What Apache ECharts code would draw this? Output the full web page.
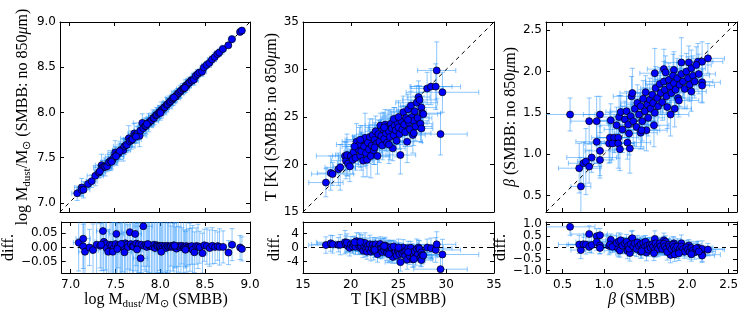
<!DOCTYPE html>
<html>
<head>
<meta charset="utf-8">
<script src="https://cdn.jsdelivr.net/npm/echarts@6/dist/echarts.min.js"></script>
<style>
  html, body { margin: 0; padding: 0; background: #ffffff; }
  #chart { width: 747px; height: 320px; }
</style>
</head>
<body>
<div id="chart"></div>
<script>
// ---- dust mass (log M_dust / M_sun) ----
const massSmbb = [7.09,7.14,7.14,7.16,7.21,7.25,7.29,7.33,7.36,7.37,
  7.39,7.40,7.42,7.44,7.46,7.48,7.50,7.51,7.53,7.55,
  7.57,7.58,7.60,7.61,7.63,7.64,7.66,7.67,7.69,7.70,
  7.72,7.73,7.75,7.76,7.78,7.79,7.81,7.82,7.84,7.85,
  7.87,7.88,7.90,7.91,7.93,7.94,7.96,7.97,7.99,8.00,
  8.02,8.03,8.05,8.06,8.08,8.09,8.11,8.12,8.14,8.15,
  8.17,8.18,8.20,8.21,8.23,8.24,8.26,8.27,8.29,8.30,
  8.32,8.33,8.35,8.36,8.38,8.40,8.42,8.44,8.47,8.49,
  8.52,8.55,8.58,8.61,8.64,8.66,8.70,8.76,8.80,8.89,
  8.91,7.47,7.56,7.74,7.86,8.01,8.16,8.28,7.34,7.52];
const massNo850 = [7.107,7.171,7.144,7.145,7.210,7.241,7.300,7.336,7.418,7.390,
  7.403,7.398,7.405,7.450,7.468,7.477,7.512,7.558,7.536,7.553,
  7.582,7.586,7.583,7.625,7.640,7.642,7.714,7.682,7.694,7.703,
  7.768,7.744,7.752,7.771,7.742,7.800,7.885,7.826,7.850,7.852,
  7.880,7.886,7.905,7.913,7.940,7.938,7.968,7.975,7.995,8.004,
  8.026,8.030,8.055,8.058,8.086,8.092,8.113,8.125,8.142,8.158,
  8.172,8.176,8.205,8.214,8.231,8.246,8.262,8.268,8.295,8.298,
  8.323,8.331,8.355,8.352,8.363,8.405,8.424,8.441,8.450,8.498,
  8.525,8.548,8.586,8.612,8.645,8.662,8.702,8.742,8.810,8.890,
  8.905,7.455,7.572,7.733,7.872,7.995,8.166,8.272,7.350,7.515];
const massErrX = [0.06,0.08,0.05,0.07,0.04,0.06,0.09,0.05,0.07,0.10,
  0.06,0.08,0.05,0.09,0.07,0.06,0.10,0.08,0.05,0.07,
  0.09,0.06,0.08,0.12,0.07,0.05,0.09,0.06,0.08,0.10,
  0.07,0.05,0.09,0.06,0.08,0.07,0.10,0.06,0.05,0.08,
  0.07,0.06,0.09,0.05,0.07,0.06,0.08,0.05,0.07,0.06,
  0.05,0.07,0.06,0.08,0.05,0.06,0.07,0.05,0.06,0.08,
  0.05,0.06,0.07,0.05,0.06,0.05,0.07,0.04,0.06,0.05,
  0.04,0.06,0.05,0.07,0.04,0.05,0.06,0.04,0.05,0.04,
  0.05,0.04,0.05,0.03,0.04,0.05,0.04,0.03,0.04,0.03,
  0.03,0.07,0.08,0.06,0.05,0.07,0.05,0.04,0.06,0.09];
const massErrY = [0.08,0.10,0.06,0.09,0.05,0.07,0.11,0.06,0.12,0.08,
  0.07,0.10,0.06,0.09,0.11,0.07,0.08,0.13,0.06,0.09,
  0.10,0.07,0.12,0.09,0.08,0.06,0.14,0.07,0.10,0.09,
  0.11,0.06,0.09,0.08,0.12,0.07,0.10,0.06,0.08,0.09,
  0.07,0.10,0.06,0.08,0.09,0.07,0.06,0.08,0.05,0.07,
  0.09,0.06,0.07,0.05,0.08,0.06,0.07,0.05,0.06,0.08,
  0.05,0.07,0.06,0.05,0.07,0.04,0.06,0.05,0.07,0.04,
  0.05,0.06,0.04,0.05,0.06,0.04,0.05,0.04,0.05,0.04,
  0.04,0.05,0.04,0.05,0.03,0.04,0.04,0.03,0.04,0.03,
  0.03,0.08,0.09,0.07,0.06,0.08,0.06,0.05,0.07,0.10];

// ---- temperature T [K] ----
const tSmbb = [17.4,17.9,18.1,18.7,18.9,19.4,19.5,19.7,19.9,19.6,
  20.0,20.2,20.3,20.5,20.6,20.8,20.9,21.0,21.1,21.2,
  21.3,21.4,21.5,21.6,21.7,21.8,21.9,22.0,22.1,22.2,
  22.3,22.4,22.5,22.6,22.7,22.8,22.9,23.0,23.1,23.2,
  23.3,23.4,23.5,23.6,23.7,23.8,23.9,24.0,24.1,24.2,
  24.3,24.4,24.5,24.6,24.7,24.8,24.9,25.0,25.1,25.2,
  25.3,25.4,25.5,25.6,25.7,25.8,25.9,26.0,26.1,26.2,
  26.3,26.4,26.5,26.6,26.7,26.8,26.9,27.0,27.1,27.2,
  27.3,27.4,27.4,27.5,27.6,28.0,28.4,28.9,29.0,29.6,
  29.4,26.0,24.5,23.5,22.5,25.0,26.6,24.0,20.4,21.0];
const tNo850 = [18.1,19.1,19.0,19.5,19.7,20.9,20.4,20.1,19.8,21.0,
  20.9,20.5,21.3,20.7,22.4,21.6,22.1,20.9,21.4,22.6,
  20.4,21.9,22.8,21.2,20.5,22.3,21.6,22.9,20.9,22.0,
  23.1,21.5,22.6,23.5,22.2,20.9,23.2,22.4,24.1,23.0,
  22.0,23.7,22.7,24.2,23.3,22.3,24.0,23.5,22.9,24.3,
  23.8,21.7,23.1,24.1,23.6,22.5,24.4,23.9,23.2,21.0,
  24.6,23.7,25.5,24.2,23.4,24.9,22.4,25.8,24.4,23.7,
  26.2,25.0,23.1,24.6,25.6,24.0,26.5,24.9,27.1,26.8,
  24.3,26.0,23.8,25.4,25.3,28.0,28.2,28.2,29.9,27.6,
  23.2,24.7,24.8,23.9,21.8,25.0,23.3,22.1,21.9,22.6];
const tErrX = [1.8,1.4,2.2,1.2,1.6,3.0,1.5,1.1,1.7,1.2,
  1.9,1.3,1.0,1.8,1.5,1.1,2.4,1.5,1.2,1.6,
  1.0,1.9,1.3,1.7,1.2,1.5,1.1,1.8,1.3,1.6,
  1.2,2.2,1.5,1.1,1.7,1.3,1.8,1.2,1.6,1.9,
  1.2,1.5,1.1,1.7,1.3,1.6,1.2,2.0,1.5,1.1,
  1.8,1.3,1.6,1.2,1.9,1.5,1.1,1.7,1.3,1.6,
  1.2,1.8,1.5,1.1,1.7,1.3,1.6,1.2,1.9,1.5,
  1.1,1.8,1.3,1.6,1.2,1.7,2.2,1.5,1.2,1.8,
  1.3,1.6,1.2,1.9,1.5,1.7,2.2,2.6,2.0,3.8,
  2.8,1.5,1.3,1.6,1.2,1.7,1.8,1.5,1.3,1.6];
const tErrY = [1.5,1.8,1.2,1.7,2.4,1.5,1.9,1.3,1.6,2.2,
  1.2,1.5,1.7,1.3,1.9,1.6,1.8,1.2,2.0,1.5,
  1.7,1.2,2.6,1.3,1.8,1.6,1.5,1.9,2.3,1.3,
  1.7,1.5,1.8,1.6,1.2,1.9,1.5,2.2,1.3,1.7,
  1.5,1.8,1.2,1.6,1.9,1.5,1.7,1.3,2.4,1.5,
  1.8,1.3,1.6,1.9,1.5,1.7,1.2,1.8,1.6,2.0,
  1.5,1.3,1.7,1.9,1.5,1.2,2.2,1.6,1.3,1.8,
  1.5,1.7,1.9,1.2,1.6,1.5,1.8,1.3,1.7,1.5,
  1.9,1.6,1.5,1.8,1.3,1.7,1.9,2.4,3.0,2.1,
  2.2,1.6,1.2,1.5,1.8,1.7,1.3,2.0,1.2,1.5];

// ---- emissivity index beta ----
const betaSmbb = [0.59,0.72,0.70,0.75,0.78,0.82,0.82,0.85,0.91,0.95,
  0.91,0.95,0.95,1.06,1.08,1.07,1.12,1.17,1.10,1.17,
  1.19,1.28,1.31,1.33,1.34,1.44,1.51,1.61,1.72,1.74,
  1.80,1.84,1.93,2.02,2.13,2.18,2.25,2.18,2.18,1.15,
  1.18,1.20,1.22,1.25,1.27,1.29,1.30,1.32,1.35,1.37,
  1.39,1.40,1.42,1.44,1.46,1.47,1.49,1.50,1.52,1.53,
  1.55,1.56,1.58,1.59,1.61,1.62,1.64,1.65,1.67,1.68,
  1.70,1.72,1.73,1.75,1.76,1.78,1.79,1.81,1.83,1.84,
  1.86,1.88,1.89,1.91,1.93,1.95,1.97,1.99,2.01,2.03,
  2.05,2.07,2.09,2.11,2.14,1.45,1.60,1.85,1.90,2.05];
const betaNo850 = [1.48,0.61,0.83,0.89,0.91,1.40,0.85,0.96,1.40,1.48,
  1.15,1.04,0.93,1.13,1.41,1.20,1.20,1.20,1.13,1.13,
  1.06,1.14,1.07,1.70,1.74,1.26,1.29,1.98,2.03,1.99,
  1.48,2.02,2.11,2.11,2.12,2.12,2.16,1.87,1.83,1.35,
  1.45,1.51,1.30,1.42,1.52,1.36,1.25,1.46,1.40,1.55,
  1.33,1.62,1.48,1.58,1.40,1.67,1.52,1.75,1.60,1.44,
  1.66,1.55,1.72,1.62,1.50,1.80,1.68,1.58,1.85,1.74,
  1.63,1.88,1.78,1.70,1.57,1.90,1.82,1.74,1.95,1.86,
  1.78,1.92,1.68,1.84,1.97,1.88,1.79,2.00,1.92,1.84,
  2.04,1.95,1.88,2.08,1.97,1.29,1.35,1.55,1.65,1.76];
const betaErrX = [0.30,0.12,0.25,0.18,0.10,0.22,0.15,0.30,0.12,0.20,
  0.25,0.18,0.14,0.30,0.16,0.22,0.18,0.25,0.15,0.20,
  0.12,0.28,0.17,0.22,0.15,0.20,0.25,0.18,0.20,0.15,
  0.22,0.17,0.20,0.15,0.18,0.25,0.20,0.22,0.15,0.20,
  0.25,0.18,0.22,0.15,0.20,0.24,0.17,0.20,0.26,0.18,
  0.22,0.20,0.15,0.24,0.18,0.20,0.22,0.17,0.25,0.20,
  0.18,0.22,0.15,0.20,0.24,0.18,0.20,0.22,0.17,0.20,
  0.15,0.22,0.18,0.20,0.24,0.18,0.20,0.15,0.22,0.18,
  0.20,0.24,0.17,0.20,0.18,0.22,0.15,0.20,0.18,0.24,
  0.17,0.20,0.22,0.18,0.20,0.22,0.18,0.20,0.24,0.18];
const betaErrY = [0.20,0.35,0.30,0.25,0.40,0.28,0.20,0.18,0.30,0.22,
  0.26,0.30,0.22,0.24,0.20,0.30,0.18,0.25,0.20,0.30,
  0.26,0.20,0.30,0.24,0.30,0.20,0.25,0.30,0.24,0.20,
  0.26,0.22,0.30,0.20,0.22,0.24,0.18,0.25,0.20,0.22,
  0.26,0.20,0.28,0.22,0.24,0.20,0.26,0.22,0.30,0.20,
  0.24,0.22,0.26,0.20,0.24,0.22,0.28,0.20,0.24,0.22,
  0.26,0.20,0.24,0.22,0.20,0.26,0.22,0.24,0.20,0.26,
  0.22,0.24,0.20,0.22,0.26,0.20,0.24,0.22,0.26,0.20,
  0.22,0.24,0.20,0.26,0.22,0.20,0.24,0.22,0.26,0.20,
  0.22,0.24,0.20,0.22,0.24,0.20,0.26,0.22,0.20,0.24];

// axis ranges and ticks
const massRange = [6.9, 9.0];
const massTicks = [7.0, 7.5, 8.0, 8.5, 9.0];
const massDiffRange = [-0.09, 0.09];
const massDiffTicks = [-0.05, 0, 0.05];
const tRange = [15, 35];
const tTicks = [15, 20, 25, 30, 35];
const tDiffRange = [-7.3, 7.3];
const tDiffTicks = [-4, 0, 4];
const betaRange = [0.3, 2.6];
const betaTicks = [0.5, 1.0, 1.5, 2.0, 2.5];
const betaDiffRange = [-1.1, 1.1];
const betaDiffTicks = [-1.0, -0.5, 0, 0.5, 1.0];

const minus = v => (v < 0 ? '\u2212' : '');
const panels = [
  { left: 60, width: 190, xs: massSmbb, ys: massNo850, ex: massErrX, ey: massErrY,
    range: massRange, ticks: massTicks, dRange: massDiffRange, dTicks: massDiffTicks,
    fmt: v => v.toFixed(1), dfmt: v => minus(v) + Math.abs(v).toFixed(2),
    xName: '{n|log M}{s|dust}{n|/M}{s|\u2299}{n| (SMBB)}',
    yName: '{n|log M}{s|dust}{n|/M}{s|\u2299}{n| (SMBB: no 850}{i|\u03bc}{n|m)}',
    yGap: 25, dGap: 40 },
  { left: 303, width: 191, xs: tSmbb, ys: tNo850, ex: tErrX, ey: tErrY,
    range: tRange, ticks: tTicks, dRange: tDiffRange, dTicks: tDiffTicks,
    fmt: v => String(v), dfmt: v => String(v),
    xName: '{n|T [K] (SMBB)}',
    yName: '{n|T [K] (SMBB: no 850}{i|\u03bc}{n|m)}',
    yGap: 20, dGap: 19 },
  { left: 546, width: 191, xs: betaSmbb, ys: betaNo850, ex: betaErrX, ey: betaErrY,
    range: betaRange, ticks: betaTicks, dRange: betaDiffRange, dTicks: betaDiffTicks,
    fmt: v => v.toFixed(1), dfmt: v => minus(v) + Math.abs(v).toFixed(1),
    xName: '{i|\u03b2}{n| (SMBB)}',
    yName: '{i|\u03b2}{n| (SMBB: no 850}{i|\u03bc}{n|m)}',
    yGap: 21, dGap: 35 }
];

const serif = 'Liberation Serif';
const nameStyle = {
  rich: {
    n: { fontFamily: serif, fontSize: 16, color: '#000', verticalAlign: 'top' },
    i: { fontFamily: serif, fontSize: 16, color: '#000', fontStyle: 'italic', verticalAlign: 'top' },
    s: { fontFamily: serif, fontSize: 11, color: '#000', verticalAlign: 'top', padding: [7, 0, 0, 0] }
  }
};
const tickFont = { fontFamily: 'DejaVu Sans', fontSize: 12, color: '#000' };

const grid = [], xAxis = [], yAxis = [], series = [];

function addAxes(gi, xr, xt, xfmt, showX, xName, yr, yt, yfmt, yName, yGap) {
  const base = {
    gridIndex: gi, type: 'value', splitLine: { show: false },
    axisLine: { show: true, onZero: false, lineStyle: { color: '#000', width: 1 } }
  };
  const tick = vals => ({ show: true, inside: true, length: 4, customValues: vals, lineStyle: { color: '#000', width: 1 } });
  const labels = (vals, fmt, margin) => Object.assign({
    show: true, customValues: vals, formatter: fmt, margin: margin,
    showMinLabel: true, showMaxLabel: true, hideOverlap: false
  }, tickFont);
  const xi = xAxis.length, yi = yAxis.length;
  xAxis.push(Object.assign({}, base, {
    position: 'bottom', min: xr[0], max: xr[1], axisTick: tick(xt),
    axisLabel: Object.assign(labels(xt, xfmt, 6), { show: showX }),
    name: xName, nameLocation: 'middle', nameGap: 18, nameTextStyle: nameStyle
  }));
  xAxis.push(Object.assign({}, base, {
    position: 'top', min: xr[0], max: xr[1], axisTick: tick(xt),
    axisLabel: { show: false, customValues: xt }
  }));
  // closely spaced y labels are split over two overlaid axes so none get dropped
  const even = yt.filter((v, i) => i % 2 === 0), odd = yt.filter((v, i) => i % 2 === 1);
  yAxis.push(Object.assign({}, base, {
    position: 'left', min: yr[0], max: yr[1], axisTick: tick(yt),
    axisLabel: labels(even, yfmt, 4),
    name: yName, nameLocation: 'middle', nameRotate: 90, nameGap: yGap, nameTextStyle: nameStyle
  }));
  yAxis.push(Object.assign({}, base, {
    position: 'left', offset: 0, min: yr[0], max: yr[1],
    axisLine: { show: false, onZero: false }, axisTick: { show: false },
    axisLabel: labels(odd, yfmt, 4)
  }));
  yAxis.push(Object.assign({}, base, {
    position: 'right', min: yr[0], max: yr[1], axisTick: tick(yt),
    axisLabel: { show: false, customValues: yt }
  }));
  return [xi, yi];
}

function errBars(params, api) {
  const x = api.value(0), y = api.value(1), ex = api.value(2), ey = api.value(3);
  const c = api.coord([x, y]);
  const l = api.coord([x - ex, y])[0], r = api.coord([x + ex, y])[0];
  const t = api.coord([x, y + ey])[1], b = api.coord([x, y - ey])[1];
  const cap = 2.5;
  const style = { stroke: 'rgba(30,144,255,0.5)', lineWidth: 1 };
  const seg = (x1, y1, x2, y2) => ({ type: 'line', shape: { x1, y1, x2, y2 }, style });
  return {
    type: 'group',
    children: [
      seg(l, c[1], r, c[1]), seg(l, c[1] - cap, l, c[1] + cap), seg(r, c[1] - cap, r, c[1] + cap),
      seg(c[0], t, c[0], b), seg(c[0] - cap, t, c[0] + cap, t), seg(c[0] - cap, b, c[0] + cap, b)
    ]
  };
}

function addLayer(xi, yi, pts, errs, ref) {
  series.push({
    type: 'custom', xAxisIndex: xi, yAxisIndex: yi, renderItem: errBars,
    data: errs, clip: true, silent: true, z: 1
  });
  series.push({
    type: 'line', xAxisIndex: xi, yAxisIndex: yi, data: ref, symbol: 'none', silent: true, z: 2,
    clip: true, lineStyle: { color: '#000', width: 1, type: [4, 4] }
  });
  series.push({
    type: 'scatter', xAxisIndex: xi, yAxisIndex: yi, data: pts, symbolSize: 7, z: 3, clip: true,
    itemStyle: { color: '#0000ff', borderColor: '#000', borderWidth: 0.7, opacity: 1 }
  });
}

panels.forEach((p, k) => {
  grid.push({ left: p.left, top: 22, width: p.width, height: 190 });
  grid.push({ left: p.left, top: 222, width: p.width, height: 51 });
  const main = addAxes(2 * k, p.range, p.ticks, p.fmt, false, '', p.range, p.ticks, p.fmt, p.yName, p.yGap);
  const res = addAxes(2 * k + 1, p.range, p.ticks, p.fmt, true, p.xName, p.dRange, p.dTicks, p.dfmt, '{n|diff.}', p.dGap);
  addLayer(main[0], main[1],
    p.xs.map((x, i) => [x, p.ys[i]]),
    p.xs.map((x, i) => [x, p.ys[i], p.ex[i], p.ey[i]]),
    [[p.range[0], p.range[0]], [p.range[1], p.range[1]]]);
  // the difference carries both uncertainties
  addLayer(res[0], res[1],
    p.xs.map((x, i) => [x, p.ys[i] - x]),
    p.xs.map((x, i) => [x, p.ys[i] - x, p.ex[i], Math.hypot(p.ex[i], p.ey[i])]),
    [[p.range[0], 0], [p.range[1], 0]]);
});

const chart = echarts.init(document.getElementById('chart'));
chart.setOption({
  animation: false,
  backgroundColor: '#ffffff',
  grid: grid,
  xAxis: xAxis,
  yAxis: yAxis,
  series: series
});
</script>
</body>
</html>
